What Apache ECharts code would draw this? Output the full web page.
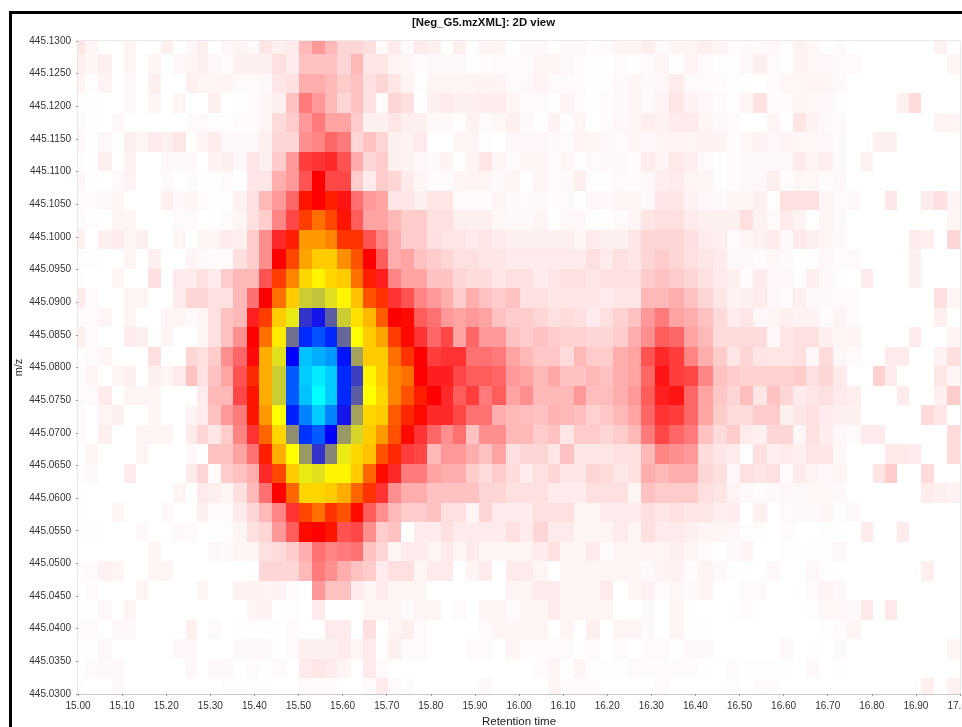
<!DOCTYPE html>
<html>
<head>
<meta charset="utf-8">
<style>html,body{margin:0;padding:0;background:#fff}#c{width:962px;height:727px;filter:blur(0.45px)}</style>
<script src="https://cdn.jsdelivr.net/npm/echarts@6/dist/echarts.min.js"></script>
</head>
<body>
<div id="c"></div>
<script>
const chartTitle = '[Neg_G5.mzXML]: 2D view';
const xName = 'Retention time';
const yName = 'm/z';

// Scan boundaries, retention time (min)
const rtEdges = [15.000,15.017,15.046,15.076,15.104,15.132,15.159,15.188,15.216,15.244,15.269,15.295,15.324,15.352,15.383,15.411,15.441,15.471,15.502,15.531,15.560,15.588,15.618,15.647,15.675,15.704,15.732,15.762,15.792,15.823,15.851,15.879,15.910,15.939,15.971,16.002,16.032,16.065,16.093,16.125,16.153,16.184,16.214,16.247,16.277,16.308,16.341,16.374,16.407,16.441,16.472,16.501,16.531,16.563,16.592,16.621,16.650,16.680,16.711,16.743,16.776,16.803,16.830,16.858,16.885,16.912,16.940,16.970,17.000];
// m/z bin boundaries, top to bottom
const mzEdges = [445.13,445.12796,445.12497,445.12199,445.11900,445.11601,445.11303,445.11004,445.10706,445.10407,445.10108,445.09810,445.09511,445.09213,445.08914,445.08615,445.08317,445.08018,445.07720,445.07421,445.07122,445.06824,445.06525,445.06227,445.05928,445.05629,445.05331,445.05032,445.04734,445.04435,445.04136,445.03838,445.03539,445.03241,445.03];

// Relative intensity per m/z bin (top to bottom) and scan (left to right)
const row00 = [2.5,1,0,0,1,0,0,1.5,0,.8,1.5,0,.8, 1,.5,2.5,1.5,2,7,10,7,4,4,3,.5,2,.5,2, 1.5,0,1.5,0,1,1,0,.7,.7,0,.7,.7,.4,.5,1,1,1.5, .6,1,1,1.5,1,.5,.7,.4,.8,.2,1.3,.9,.2,.5,0,0,0,0,0,0,0,1.3,0];
const row01 = [1.5,1,1.5,0,1,0,1,0,.8,1,1.5,.8,.5, 1.5,1.5,1.5,3,2,6,6,6,4,7,2.5,2.5,1.2,1,.5, .7,.7,.7,.3,.4,.5,.4,.4,1,1,.8,.4,.2,.2,.4,.3,.4, 1,.3,1.2,.5,.3,.3,.7,1.5,.5,.3,1.3,.9,.8,.6,.5,0,0,0,0,0,0,0,1];
const row02 = [1,.3,1.2,0,.7,0,1.5,0,0,1.5,1,1,1.2, .5,.5,.7,2.5,3,8,8,7,5,6,3,4,2.5,1.2,.2, 1,1,1,1,1.3,1.2,.5,.7,1.2,.5,.5,.4,.2,.3,.7,1,.6, .8,1.8,.6,.5,.4,.2,.2,0,.4,.9,.9,1.2,1.1,.6,0,0,0,0,0,0,0,0,0];
const row03 = [0,.2,0,0,.7,0,1,0,1,0,0,1.5,0, .2,.5,1,1.5,6,13,10,7,4,6,3,.5,4,3,0, 1.5,2,1.5,1.5,1.8,1.8,1,.5,.5,.2,1.2,.4,.3,.5,.7,1,.5, 1.2,2.5,1.3,.8,.5,.3,1,2.8,.4,.4,1,.9,.8,.3,0,0,0,0,1.5,3.5,0,0,0];
const row04 = [.5,.2,0,.8,0,0,0,0,0,.5,.5,.3,.3, .5,.5,1,3.5,5,10,13,9,9,5,1.5,1.5,2.5,1.5,1.5, .7,.7,.3,1.3,.5,.9,1.5,.7,.3,1.3,.3,1,0,.4,.8,1,1.6, 1.3,2,2,1,.7,.4,0,0,1,.3,2.5,1.3,.7,.5,0,0,0,0,0,0,0,1.2,1];
const row05 = [.7,.2,.8,0,1.5,1,2,1.5,2.5,0,1.2,1.8,.7, .7,.7,1.5,4,4,11,12,15,13,4,6,4,1.5,1.2,2, 0,0,1,1,.3,0,.8,.8,.8,.7,.6,1.2,1,.8,.6,1,.8, 1,1.2,1,1.3,1.3,.4,.9,1.3,.8,1.2,.9,.9,.8,.5,0,0,1.5,1.5,0,0,0,0,0];
const row06 = [.3,.2,1.5,0,1.3,0,0,.7,.7,.7,0,1.3,1.5, .7,2.5,1.5,5,10,19,20,21,17,8,4,5,1.5,1.2,.8, .7,1.2,.2,1.2,2.5,1,.4,1,1,.5,1,.3,.5,.7,.7,.4,1.8, 1.1,2.3,1.5,.5,.3,.5,.7,.7,.7,.7,2,1.2,1.7,.5,0,1.4,0,0,0,0,0,0,0];
const row07 = [.8,.2,0,.6,1.2,0,0,.5,0,.4,.2,.3,.5, .2,2.5,2.5,8,10,17,25,18,18,5,2,5,4,2,1, .4,.4,1,1.2,1,.7,1,.3,1,.5,.7,1.5,.3,.3,.6,.5,.7, 1.7,2,1,1,.3,.5,.7,.8,1.5,.4,.9,.9,.4,.8,0,0,0,0,0,0,0,0,0];
const row08 = [.5,.5,.7,1,0,0,0,1.5,.8,1,.5,.2,.3, 1.5,3,7,10,15,27,25,28,23,14,10,9,2.5,2.5,1.5, 2.5,2.5,.5,.4,.4,1,.7,.6,.7,.4,.5,.3,.8,.8,1,1,.7, 2.5,2.5,1.3,.8,.7,1,1,1.5,.3,3,3,3,1,.5,.7,0,0,2.5,0,0,2,3,1.2];
const row09 = [.5,.3,0,1,1,0,0,0,.5,.5,0,.3,.4, 1,3,5,12,18,31,36,32,27,16,9,9,7,5,5, 3,3,1.5,1.5,1.5,.9,.7,.7,1,.2,.7,.8,.2,.1,.5,1,2.5, 3,3,2,1.5,1.5,1.5,3,1.3,.5,2,1.2,0,1,.5,0,0,0,0,0,0,0,0,1];
const row10 = [1.5,0,1.5,2,1,1.5,0,0,1,0,1,1,2, 1.5,5,11,21,28,40,40,38,30,30,17,12,8,5,5, 3,2.5,2.5,2,2.5,2,1.5,1.5,1.5,1.5,1.5,1,2,1.5,1.5,2.5,4, 4,4,3,2,1.5,.5,1,1.3,2,.7,2.2,1.5,1,.6,0,0,0,0,0,2,1.5,0,4];
const row11 = [.3,.3,0,0,1,0,1.5,0,0,1,.7,.5,.5, 3,5,11,25,32,41,45,45,39,33,25,16,8,9,6, 5,4,3,3,2.5,2.5,2,2,2,2,2,2,3,2,3,2.5,4, 5,4,3,2.5,2,.7,.7,.4,.9,.7,0,.3,.8,.4,.6,0,0,0,0,1.5,0,0,0];
const row12 = [.2,0,0,1,0,0,3,0,2,2,3,2,5, 7,7,17,31,38,46,49,46,45,36,28,22,12,9,9, 6,6,4,3.5,3.5,2.5,3,3,2,2.5,3,3,2.5,3,3,3,5, 6,5,4,3,2,1.5,.4,2,.8,.8,.3,1.5,.8,.2,0,2,0,0,0,1.5,0,0,0];
const row13 = [2,.5,0,0,1,1,0,0,2,4,4,3,3, 7,14,25,36,45,55,56,53,49,44,33,30,20,17,12, 10,8,5,8,6,5,6,3,3,2.5,2.5,2.5,2.5,2,2.5,2.5,7, 7,8,6,4,2.5,1.3,1.5,1.8,.8,.6,1.5,.7,.7,.5,.4,0,0,0,0,0,0,3,1];
const row14 = [.5,.5,1,0,1,0,0,1,1,.7,1,3,6, 7,22,31,45,52,70,73,66,55,47,43,34,25,26,16, 14,10,9,10,9,6,5,5,4,3,3.5,3,2,3,4.5,6,10, 13,9,8,6,3.5,1.8,2.5,.8,1,1.5,1.3,1.3,.5,1.1,.4,0,0,0,0,0,0,1.5,0];
const row15 = [1.5,.5,0,0,2,1.5,0,1,0,0,1,3,6, 11,25,36,48,64,79,83,79,65,50,45,41,31,26,20, 15,18,9,15,10,10,6,5,6,5,4.5,4.5,4,4,5,8,11, 16,15,9,7,3.5,3.5,3.5,3.5,.8,2.5,3,3,1.5,1,1.2,0,0,0,0,2,0,0,1.2];
const row16 = [.2,.5,1,0,0,0,3,0,0,4,3,5,11, 15,24,42,53,75,94,92,90,77,59,45,45,36,30,25, 19,20,20,14,14,13,9,7,5.5,5.5,3.5,7,5,5,8,9,17, 21,19,12,8,5,2.5,4,2.5,2.5,2.5,3,.8,3.5,.8,.5,0,0,2,2,0,0,1.3,3];
const row17 = [.5,1,0,1,1.5,0,1.5,1,2,6,3,6,9, 17,29,42,55,84,95,98,95,79,69,49,45,38,36,25, 22,22,18,16,16,15,10,9,7,8.5,6,6,7,6,8,9,15, 23,19,18,12,6,5,4.5,4.5,4.5,4.5,5,3,4,2,0,0,4.5,2,0,0,0,2.5,1];
const row18 = [.5,.5,2,0,1,1,1,0,0,0,2,7,7, 18,27,42,55,84,94,100,95,79,66,50,46,38,33,28, 25,21,16,19,13,16,9,11,7,7,7,10,6.5,6.5,8,10,16, 22,23,15,9,5.5,4,6.5,2.5,6,4,2,2.5,3,2,1.7,0,0,0,2,0,0,1.5,5];
const row19 = [.5,0,1,1.5,0,0,1,0,0,1,2,6,10, 13,27,40,50,78,88,95,88,73,59,46,45,34,29,26, 21,21,18,14,14,8,7,6.5,6,7.5,7,6.5,4.5,5.5,7,9,15, 20,19,15,9,5,3.5,3.5,5,5,1.5,2.5,3,2,1.5,1.5,0,0,0,0,0,3.5,2.5,0];
const row20 = [.5,0,1.5,0,0,1,1,1,0,2,4,2.5,5, 12,20,35,46,61,80,84,75,60,54,45,40,33,26,20, 15,11,14,6,11,11,7,7,5,6,2.5,5,5,4,5,7,13, 18,15,13,6,3.5,5,2,1.5,4,4,.8,3,1.8,.8,.6,2,2,0,0,0,0,0,3.5];
const row21 = [0,1,0,0,0,1,0,0,0,.7,0,6,6, 9,14,28,42,50,60,70,62,52,46,44,33,29,19,18, 7,10,10,8,6,9,3,4,4,2.5,6,2.5,2.5,2.5,3,3,7, 12,11,10,3.5,2.5,2,.3,3,1.7,2,1.5,2.5,2.5,.8,0,0,0,2.2,2.2,2,0,0,3.5];
const row22 = [.5,.7,0,0,2,0,0,0,0,2,4,.5,5, 6,8,21,32,45,52,53,49,49,45,35,26,21,13,13, 9,8,8,5,3.5,5,3.5,2,3,4,2.5,2.5,4,3.5,2.5,3,8, 7,8,8,4,3,.8,3,2.5,3,.5,2,1.2,.8,1,0,0,2.5,5,0,0,3.5,0,0];
const row23 = [.3,0,0,0,0,0,0,0,1,0,2,1.5,1, 3,7,14,25,35,46,46,45,42,35,30,20,11,8,8, 6,6,6,6,4,4,3,3,3,2,2,2,3,3,3,1,6, 5,5,5,3,2.5,1.2,.7,.4,.7,.8,.7,.9,.9,.7,0,0,0,0,0,0,1.8,1.5,1.3];
const row24 = [.3,0,0,1,0,0,0,.7,0,0,1.5,.5,.5, 2,4,7,12,20,32,36,30,33,26,16,11,7,5,5, 6,3,3,1,4,2,2,2,3,3,3,1,1,2,2,2,3, 2.5,3,2.5,2.5,1.5,1.8,0,1.5,0,.6,.7,.7,1,.3,.7,0,0,0,0,0,0,0,0];
const row25 = [.3,.3,0,0,0,.7,0,0,.7,.5,0,.2,.3, 1,3,4,10,16,26,25,27,17,18,11,5,6,0,2, 2,3,2,2,2,2,3,2,4,2,2,1,1,1,2,1,3, 2,2,1.5,1,1,.8,.3,.3,0,.4,0,0,.1,.1,0,2,0,0,2,0,0,0,0];
const row26 = [0,0,0,0,0,0,1,0,0,0,0,.8,.7, 1,1,3,3.5,5,8,14,12,13,14,6,4,1,2,2, 1,2,1,2,1,1,1,1,2,3,1,1,2,.5,1,1,1.2, 1,1.5,1,.6,0,.7,1.2,0,0,.3,0,.3,.2,.8,0,0,0,0,0,0,0,0,0];
const row27 = [.4,.5,1.3,1,0,0,1,1,0,0,0,0,0, 0,.2,4,4,4,7,13,11,8,6,5,2,3,3,1, 2,2,0,1,2,0,2,2,1,0,1,1,1,1,1,1,.7, 1.2,1.3,.5,1.2,.7,.1,.1,0,.7,0,0,.8,.3,0,0,0,0,0,0,0,1.5,0,0];
const row28 = [.2,.4,0,0,0,1,0,0,0,0,1,0,0, 1.3,1.3,1.2,1.3,.4,0,10,6,6,2,1,2,1,1,1, 0,0,0,0,0,0,1,1,2,2,1,1,1,2,0,1,1.3, .6,.9,.7,1.2,0,0,.5,.5,0,0,.2,.6,1.2,.8,0,0,0,0,0,0,0,0,0];
const row29 = [.2,.2,.8,0,1,0,0,0,0,0,0,0,0, 0,1,1.3,0,.3,0,2,0,0,0,1,1,1,.5,1, 1,0,.5,0,1,1,.5,1,1,2,1,1,1,1,0,0,.5, 0,1,.1,0,0,.1,.6,0,0,0,0,.3,.9,.9,.7,2.3,0,2.3,0,0,0,0,0];
const row30 = [.5,.5,0,.8,.8,0,0,0,0,1.5,0,.5,0, .2,.3,.3,.2,.6,0,0,2,2,0,3,0,1,1.5,.5, 0,0,0,0,.5,1,1,1,1,0,1,0,1.5,0,1,1,.5, 0,1,.2,.2,0,0,0,0,0,0,0,0,.1,.4,1,0,0,0,0,0,0,0,0];
const row31 = [.3,.3,.8,0,0,0,0,0,.8,.8,0,0,0, .7,.7,.7,.2,.5,1.5,1.5,1.5,2,1,2,.3,1.5,.5,.5, 0,0,0,.5,.5,0,1,.5,.5,.5,.5,.2,.5,0,.5,0,.6, .5,.1,.7,.7,0,0,0,0,0,.8,0,.2,0,.5,0,0,0,0,0,0,0,0,1];
const row32 = [.3,.5,.7,.7,0,0,0,0,0,.8,0,.7,.7, 0,.5,.2,.5,0,2,2.5,2,1,0,2,.5,0,0,0, 0,0,0,0,0,0,0,0,.5,1,.2,1,.3,.3,.3,.5,.4, .4,.4,.4,.1,0,.4,.1,.1,.1,.1,0,.7,0,.1,0,0,0,0,0,0,0,0,0];
const row33 = [.1,0,0,.7,0,0,0,0,0,0,0,0,.3, .3,.3,.3,0,0,.5,.5,.5,0,0,.5,2,.5,.3,0, 0,0,0,0,.7,0,0,0,0,1,.5,.5,.5,0,0,0,0, .5,0,0,0,0,.3,0,.4,.4,0,0,0,0,0,0,0,0,0,0,0,1.5,0,1.3];
const intensityRows = [row00,row01,row02,row03,row04,row05,row06,row07,row08,row09,row10,row11,row12,row13,row14,row15,row16,row17,row18,row19,row20,row21,row22,row23,row24,row25,row26,row27,row28,row29,row30,row31,row32,row33];

const colorRamp = ['#ffffff','#ff0000','#ffff00','#0000ff','#00ffff'];

const cells = [];
intensityRows.forEach((row, r) => {
  row.forEach((v, c) => {
    cells.push([rtEdges[c], rtEdges[c+1], mzEdges[r], mzEdges[r+1], v]);
  });
});

const FONT = '"Liberation Sans", Arial, sans-serif';
const chart = echarts.init(document.getElementById('c'), null, {renderer:'canvas'});
chart.setOption({
  animation:false,
  backgroundColor:'#fff',
  title:{text:chartTitle,left:478.5,top:12,textAlign:'center',
    textStyle:{fontFamily:FONT,fontSize:11.4,fontWeight:'bold',color:'#111',lineHeight:12}},
  grid:{left:78,top:41,right:2,bottom:33,outerBoundsMode:'none',show:true,borderColor:'#d4d4d4',borderWidth:1,backgroundColor:'#fff'},
  xAxis:{type:'value',min:15,max:17,interval:0.1,name:xName,nameLocation:'middle',nameGap:20,
    nameTextStyle:{fontFamily:FONT,fontSize:11.5,color:'#222'},
    axisLine:{show:true,lineStyle:{color:'#c8c8c8',width:1},onZero:false},
    axisTick:{show:true,length:2,lineStyle:{color:'#999'}},
    axisLabel:{fontFamily:FONT,fontSize:10,color:'#333',margin:7,showMaxLabel:true,hideOverlap:false,
      formatter:v=>v.toFixed(2)},
    splitLine:{show:false}},
  yAxis:{type:'value',min:445.03,max:445.13,interval:0.005,name:yName,nameLocation:'middle',nameGap:54,nameRotate:90,
    nameMoveOverlap:false,
    scale:true,
    nameTextStyle:{fontFamily:FONT,fontSize:11,color:'#222'},
    axisLine:{show:true,lineStyle:{color:'#c8c8c8',width:1},onZero:false},
    axisTick:{show:true,length:2,lineStyle:{color:'#999'}},
    axisLabel:{fontFamily:FONT,fontSize:10,color:'#333',margin:7,formatter:v=>v.toFixed(4)},
    splitLine:{show:false}},
  visualMap:{show:false,type:'continuous',min:0,max:100,dimension:4,seriesIndex:0,inRange:{color:colorRamp}},
  graphic:[
    {type:'rect',left:9,top:11,shape:{width:953,height:3},style:{fill:'#000'},z:100},
    {type:'rect',left:9,top:11,shape:{width:3,height:716},style:{fill:'#000'},z:100}
  ],
  series:[{
    type:'custom',
    silent:true,
    clip:true,
    encode:{x:[0,1],y:[2,3]},
    data:cells,
    renderItem:(params,api)=>{
      const a = api.coord([api.value(0),api.value(2)]);
      const b = api.coord([api.value(1),api.value(3)]);
      const x0 = Math.round(a[0]), y0 = Math.round(a[1]);
      const x1 = Math.round(b[0]), y1 = Math.round(b[1]);
      return {type:'rect',shape:{x:x0,y:y0,width:x1-x0,height:y1-y0},
        style:{fill:api.visual('color')}};
    }
  }]
});
</script>
</body>
</html>
